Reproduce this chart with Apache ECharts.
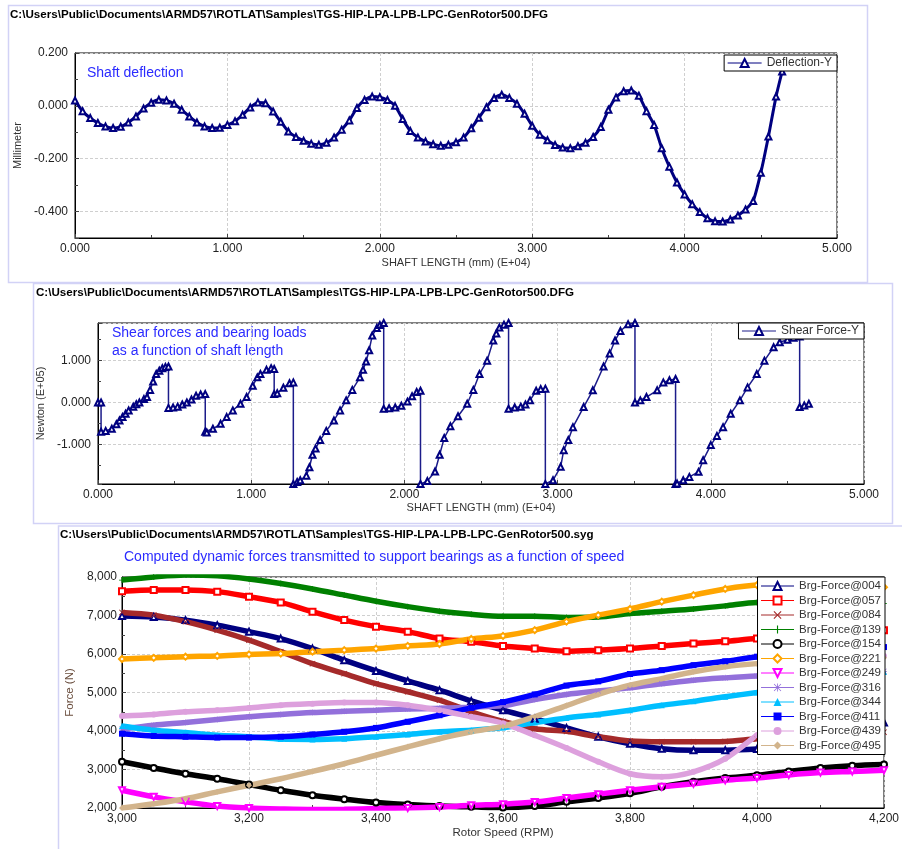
<!DOCTYPE html>
<html><head><meta charset="utf-8">
<script src="https://cdn.jsdelivr.net/npm/echarts@6/dist/echarts.min.js"></script>
<style>html,body{margin:0;padding:0;background:#fff}#c{width:902px;height:849px}</style>
</head><body><div id="c"></div>
<script>
// ---------- Panel 1: shaft deflection (x in E+04 mm, y in mm)
const deflX = [0,0.05,0.10,0.15,0.20,0.25,0.30,0.35,0.40,0.45,0.50,0.55,0.60,0.65,0.70,0.75,0.80,0.85,0.90,0.95,
  1.00,1.05,1.10,1.15,1.20,1.25,1.30,1.35,1.40,1.45,1.50,1.55,1.60,1.65,1.70,1.75,1.80,1.85,1.90,1.95,
  2.00,2.05,2.10,2.15,2.20,2.25,2.30,2.35,2.40,2.45,2.50,2.55,2.60,2.65,2.70,2.75,2.80,2.85,2.90,2.95,
  3.00,3.05,3.10,3.15,3.20,3.25,3.30,3.35,3.40,3.45,3.50,3.55,3.60,3.65,3.70,3.75,3.80,3.85,3.90,3.95,
  4.00,4.05,4.10,4.15,4.20,4.25,4.30,4.35,4.40,4.45,4.50,4.55,4.60,4.64];
const deflY = [0.020,-0.020,-0.046,-0.065,-0.078,-0.084,-0.079,-0.063,-0.040,-0.010,0.012,0.023,0.020,0.008,-0.015,-0.040,-0.063,-0.078,-0.084,-0.083,
  -0.072,-0.058,-0.034,-0.006,0.013,0.010,-0.021,-0.060,-0.097,-0.118,-0.132,-0.143,-0.147,-0.140,-0.120,-0.090,-0.055,-0.008,0.022,0.035,
  0.033,0.022,0.000,-0.050,-0.095,-0.120,-0.135,-0.145,-0.151,-0.147,-0.138,-0.120,-0.085,-0.045,-0.005,0.030,0.042,0.030,0.008,-0.030,
  -0.075,-0.109,-0.130,-0.148,-0.158,-0.160,-0.153,-0.140,-0.118,-0.080,-0.015,0.032,0.055,0.058,0.038,-0.020,-0.072,-0.160,-0.230,-0.290,
  -0.335,-0.372,-0.402,-0.425,-0.437,-0.438,-0.430,-0.415,-0.392,-0.360,-0.253,-0.116,0.035,0.130];

// ---------- Panel 2: shear force (x in E+04 mm, y in E+05 N)
const shearX = [0,0.02,0.02,0.05,0.09,0.12,0.14,0.16,0.18,0.20,0.23,0.25,0.27,0.30,0.32,0.34,0.36,0.38,0.40,0.42,0.44,0.46,
  0.46,0.49,0.52,0.55,0.58,0.61,0.64,0.67,0.70,
  0.70,0.71,0.75,0.80,0.84,0.88,0.93,0.97,1.01,1.04,1.06,1.10,1.13,1.15,
  1.15,1.17,1.21,1.25,1.275,
  1.275,1.30,1.32,1.36,1.38,1.40,1.42,1.45,1.49,1.54,1.58,1.62,1.66,1.71,1.73,1.75,1.77,1.79,1.82,1.84,1.865,
  1.865,1.90,1.94,1.98,2.02,2.05,2.08,2.105,
  2.105,2.15,2.20,2.23,2.26,2.30,2.35,2.41,2.45,2.49,2.54,2.58,2.60,2.62,2.65,2.68,
  2.68,2.72,2.76,2.79,2.82,2.86,2.89,2.92,
  2.92,2.97,3.02,3.04,3.07,3.10,3.17,3.23,3.30,3.34,3.375,3.41,3.46,3.505,
  3.505,3.54,3.58,3.65,3.69,3.73,3.77,
  3.77,3.78,3.82,3.86,3.92,3.95,4.00,4.04,4.08,4.13,4.19,4.24,4.30,4.35,4.41,4.45,4.50,4.54,4.58,
  4.58,4.61,4.64];
const shearY = [0,0,-0.70,-0.68,-0.63,-0.52,-0.43,-0.35,-0.27,-0.19,-0.10,-0.04,0.00,0.08,0.13,0.30,0.50,0.68,0.76,0.82,0.85,0.86,
  -0.13,-0.12,-0.10,-0.05,0.00,0.07,0.16,0.19,0.20,
  -0.70,-0.72,-0.63,-0.51,-0.35,-0.19,-0.03,0.13,0.40,0.60,0.68,0.78,0.82,0.80,
  0.20,0.22,0.35,0.46,0.48,
  -1.95,-1.90,-1.86,-1.75,-1.55,-1.25,-1.10,-0.90,-0.68,-0.43,-0.19,0.05,0.30,0.60,0.78,0.98,1.25,1.60,1.78,1.85,1.90,
  -0.15,-0.14,-0.12,-0.08,0.02,0.15,0.25,0.28,
  -1.95,-1.88,-1.65,-1.25,-0.85,-0.57,-0.33,-0.03,0.30,0.68,1.00,1.48,1.65,1.79,1.86,1.90,
  -0.15,-0.12,-0.10,-0.05,0.05,0.28,0.32,0.33,
  -1.95,-1.86,-1.54,-1.14,-0.90,-0.59,-0.11,0.29,0.86,1.17,1.48,1.71,1.87,1.90,
  0.00,0.05,0.13,0.29,0.48,0.53,0.56,
  -1.95,-1.94,-1.86,-1.78,-1.66,-1.38,-1.02,-0.80,-0.59,-0.27,0.05,0.36,0.68,1.00,1.32,1.44,1.50,1.55,1.58,
  -0.11,-0.07,-0.03];

// ---------- Panel 3: bearing forces vs speed (N)
const rpm = [3000,3050,3100,3150,3200,3250,3300,3350,3400,3450,3500,3550,3600,3650,3700,3750,3800,3850,3900,3950,4000,4050,4100,4150,4200];
const f004 = [6990,6960,6880,6750,6580,6400,6140,5840,5560,5300,5060,4780,4540,4320,4080,3850,3670,3540,3500,3500,3530,3600,3780,4000,4220];
const f057 = [7630,7660,7660,7620,7490,7340,7100,6880,6710,6580,6400,6320,6210,6140,6070,6100,6140,6210,6270,6330,6400,6440,6500,6560,6620];
const f084 = [7080,7010,6840,6620,6360,6060,5750,5490,5230,5020,4800,4500,4250,4060,3990,3850,3740,3720,3720,3730,3800,3840,3890,3930,3970];
const f139 = [7920,8000,8050,8030,7950,7830,7690,7530,7370,7230,7110,7030,6980,6980,6950,6960,7050,7110,7170,7250,7340,7340,7330,7320,7310];
const f154 = [3200,3040,2890,2760,2610,2460,2330,2230,2140,2090,2050,2030,2010,2050,2160,2260,2380,2550,2680,2780,2850,2950,3040,3100,3130];
const f221 = [5870,5900,5930,5950,5990,6010,6060,6100,6140,6210,6260,6390,6470,6620,6840,7010,7170,7360,7530,7690,7790,7800,7790,7760,7735];
const f249 = [2460,2290,2160,2050,2000,1975,1960,1965,1985,2000,2025,2070,2100,2155,2260,2360,2460,2550,2630,2720,2780,2860,2920,2950,2980];
const f316 = [4050,4150,4220,4300,4370,4430,4480,4510,4540,4570,4590,4620,4660,4820,4950,5040,5120,5230,5320,5380,5430,5460,5490,5520,5550];
const f344 = [4130,4020,3960,3890,3850,3790,3780,3800,3850,3910,3980,4020,4090,4220,4340,4430,4540,4670,4770,4890,5000,5120,5250,5390,5530];
const f411 = [3930,3870,3850,3830,3830,3850,3910,3980,4080,4240,4410,4600,4750,4950,5180,5290,5480,5580,5710,5810,5930,5990,6050,6115,6180];
const f439 = [4390,4430,4500,4540,4600,4670,4710,4740,4740,4670,4540,4370,4200,3890,3560,3200,2890,2810,2940,3280,3890,4450,5000,5500,5950];
const f495 = [2000,2110,2240,2420,2590,2760,2950,3150,3370,3590,3800,3980,4120,4370,4660,4950,5190,5360,5540,5670,5750,5800,5840,5870,5900];
const brgNames = ['Brg-Force@004','Brg-Force@057','Brg-Force@084','Brg-Force@139','Brg-Force@154','Brg-Force@221',
  'Brg-Force@249','Brg-Force@316','Brg-Force@344','Brg-Force@411','Brg-Force@439','Brg-Force@495'];
const brgValues = [f004,f057,f084,f139,f154,f221,f249,f316,f344,f411,f439,f495];

// ---------- texts
const pathDFG = 'C:\\Users\\Public\\Documents\\ARMD57\\ROTLAT\\Samples\\TGS-HIP-LPA-LPB-LPC-GenRotor500.DFG';
const pathSYG = 'C:\\Users\\Public\\Documents\\ARMD57\\ROTLAT\\Samples\\TGS-HIP-LPA-LPB-LPC-GenRotor500.syg';

// ---------- styles (kept separate from the data)
const FONT = '"Liberation Sans", Arial, sans-serif';
const brgStyle = [
  {c:'#000080', s:'emptyTriangle'},
  {c:'#ff0000', s:'emptyRect'},
  {c:'#a52a2a', s:'path://M0,1L1,0L5,4L9,0L10,1L6,5L10,9L9,10L5,6L1,10L0,9L4,5Z'},
  {c:'#008000', s:'path://M4.3,0H5.7V4.3H10V5.7H5.7V10H4.3V5.7H0V4.3H4.3Z'},
  {c:'#000000', s:'emptyCircle'},
  {c:'#ffa500', s:'emptyDiamond'},
  {c:'#ff00ff', s:'emptyTriangle', r:180},
  {c:'#9370db', s:'path://M4.5,0H5.5V4.5H10V5.5H5.5V10H4.5V5.5H0V4.5H4.5Z M1,0.3L5,4.3L9,0.3L9.7,1L5.7,5L9.7,9L9,9.7L5,5.7L1,9.7L0.3,9L4.3,5L0.3,1Z'},
  {c:'#00bfff', s:'triangle'},
  {c:'#0000ff', s:'rect'},
  {c:'#dda0dd', s:'circle'},
  {c:'#d2b48c', s:'diamond'}
];

function zip(xs, ys){ return xs.map((x,i)=>[x, ys[i]]); }
const fmt3 = v => v.toFixed(3);
const fmtComma = v => Math.round(v).toLocaleString('en-US');

function axisBase(extra){
  return Object.assign({
    type:'value',
    axisLine:{show:true, onZero:false, lineStyle:{color:'#000', width:1}},
    axisTick:{show:true, inside:true, length:4, lineStyle:{color:'#444'}},
    minorTick:{show:true, splitNumber:2, length:3, lineStyle:{color:'#444'}},
    splitLine:{show:true, lineStyle:{color:'#cfcfcf', type:[3,2], width:1}},
    axisLabel:{color:'#222', fontSize:12, fontFamily:FONT, margin:5},
    nameLocation:'middle',
    nameTextStyle:{color:'#333', fontSize:11, fontFamily:FONT}
  }, extra);
}

const series = [
  {name:'Deflection-Y', type:'line', xAxisIndex:0, yAxisIndex:0, data:zip(deflX, deflY),
   symbol:'emptyTriangle', symbolSize:6, showAllSymbol:true, smooth:0.2,
   lineStyle:{color:'#000080', width:3}, itemStyle:{color:'#000080', borderWidth:1}},
  {name:'Shear Force-Y', type:'line', xAxisIndex:1, yAxisIndex:1, data:zip(shearX, shearY),
   symbol:'emptyTriangle', symbolSize:6, showAllSymbol:true,
   lineStyle:{color:'#1c1c8a', width:1.5}, itemStyle:{color:'#000080', borderWidth:1}}
];
brgNames.forEach((n,i)=>{
  const st = brgStyle[i];
  series.push({name:n, type:'line', xAxisIndex:2, yAxisIndex:2, data:zip(rpm, brgValues[i]),
    smooth:0.3, symbol:st.s, symbolSize:6, symbolRotate:st.r||0, showAllSymbol:true,
    lineStyle:{color:st.c, width:5.5}, itemStyle:{color:st.c, borderWidth:1}});
});

const legendBase = {
  backgroundColor:'#fff', borderColor:'#000', borderWidth:1, borderRadius:0,
  itemWidth:33, itemHeight:10, selectedMode:false, lineStyle:{width:1}, itemStyle:{borderWidth:1},
  textStyle:{color:'#333', fontSize:12, fontFamily:FONT}
};

const option = {
  animation:false,
  backgroundColor:'#fff',
  textStyle:{fontFamily:FONT},
  grid:[
    {left:75, top:53, width:762, height:185, show:true, borderColor:'#000', borderWidth:1, backgroundColor:'transparent'},
    {left:98, top:323, width:766, height:161, show:true, borderColor:'#000', borderWidth:1, backgroundColor:'transparent'},
    {left:122, top:577, width:763, height:231, show:true, borderColor:'#000', borderWidth:1, backgroundColor:'transparent'}
  ],
  xAxis:[
    axisBase({gridIndex:0, min:0, max:5, interval:1, name:'SHAFT LENGTH (mm) (E+04)', nameGap:19,
      axisLabel:{color:'#222', fontSize:12, fontFamily:FONT, margin:5, formatter:fmt3}}),
    axisBase({gridIndex:1, min:0, max:5, interval:1, name:'SHAFT LENGTH (mm) (E+04)', nameGap:18,
      axisLabel:{color:'#222', fontSize:12, fontFamily:FONT, margin:5, formatter:fmt3}}),
    axisBase({gridIndex:2, min:3000, max:4200, interval:200, name:'Rotor Speed (RPM)', nameGap:19,
      nameTextStyle:{color:'#333', fontSize:11.5, fontFamily:FONT},
      axisLabel:{color:'#222', fontSize:12, fontFamily:FONT, margin:5, formatter:fmtComma}})
  ],
  yAxis:[
    axisBase({gridIndex:0, min:-0.5, max:0.2, splitNumber:4, name:'Millimeter', nameGap:41,
      axisLabel:{color:'#222', fontSize:12, fontFamily:FONT, margin:7,
        formatter:v => (Math.round(v*10) % 2 === 0 ? v.toFixed(3) : '')}}),
    axisBase({gridIndex:1, min:-1.95, max:1.9, splitNumber:4, name:'Newton (E+05)', nameGap:40,
      axisLabel:{color:'#222', fontSize:12, fontFamily:FONT, margin:7,
        formatter:v => (Math.abs(v-Math.round(v))<1e-9 ? v.toFixed(3) : '')}}),
    axisBase({gridIndex:2, min:2000, max:8000, interval:1000, name:'Force (N)', nameGap:35,
      nameTextStyle:{color:'#6b4f3f', fontSize:11.5, fontFamily:FONT},
      axisLabel:{color:'#222', fontSize:12, fontFamily:FONT, margin:5, formatter:fmtComma}})
  ],
  legend:[
    Object.assign({}, legendBase, {data:['Deflection-Y'], right:65, top:55, padding:[2,5,2,3], itemWidth:34}),
    Object.assign({}, legendBase, {data:['Shear Force-Y'], right:38, top:323, padding:[2,5,2,3], itemWidth:34}),
    Object.assign({}, legendBase, {data:brgNames, orient:'vertical', right:17, top:577, itemGap:2.5,
      padding:[3,4,3,3],
      textStyle:{color:'#333', fontSize:11.5, fontFamily:FONT}})
  ],
  series: series,
  graphic:[
    {type:'rect', silent:true, z:-10, shape:{x:8.5, y:5.5, width:859, height:277}, style:{fill:'none', stroke:'#d2d2f6', lineWidth:1.5}},
    {type:'rect', silent:true, z:-10, shape:{x:33.5, y:283.5, width:859, height:240}, style:{fill:'none', stroke:'#d2d2f6', lineWidth:1.5}},
    {type:'rect', silent:true, z:-10, shape:{x:58.5, y:526, width:880, height:340}, style:{fill:'none', stroke:'#d2d2f6', lineWidth:1.5}},
    {type:'text', x:10, y:15, style:{text:pathDFG, font:'bold 11.6px '+FONT, fill:'#000', verticalAlign:'middle'}},
    {type:'text', x:36, y:293, style:{text:pathDFG, font:'bold 11.6px '+FONT, fill:'#000', verticalAlign:'middle'}},
    {type:'text', x:60, y:535, style:{text:pathSYG, font:'bold 11.6px '+FONT, fill:'#000', verticalAlign:'middle'}},
    {type:'text', x:87, y:73, style:{text:'Shaft deflection', font:'14px '+FONT, fill:'#2b2bff', verticalAlign:'middle'}},
    {type:'text', x:112, y:333, style:{text:'Shear forces and bearing loads', font:'14px '+FONT, fill:'#2b2bff', verticalAlign:'middle'}},
    {type:'text', x:112, y:351, style:{text:'as a function of shaft length', font:'14px '+FONT, fill:'#2b2bff', verticalAlign:'middle'}},
    {type:'text', x:124, y:557, style:{text:'Computed dynamic forces transmitted to support bearings as a function of speed', font:'14px '+FONT, fill:'#2b2bff', verticalAlign:'middle'}}
  ]
};

const chart = echarts.init(document.getElementById('c'), null, {renderer:'canvas'});
chart.setOption(option);
</script>
</body></html>
